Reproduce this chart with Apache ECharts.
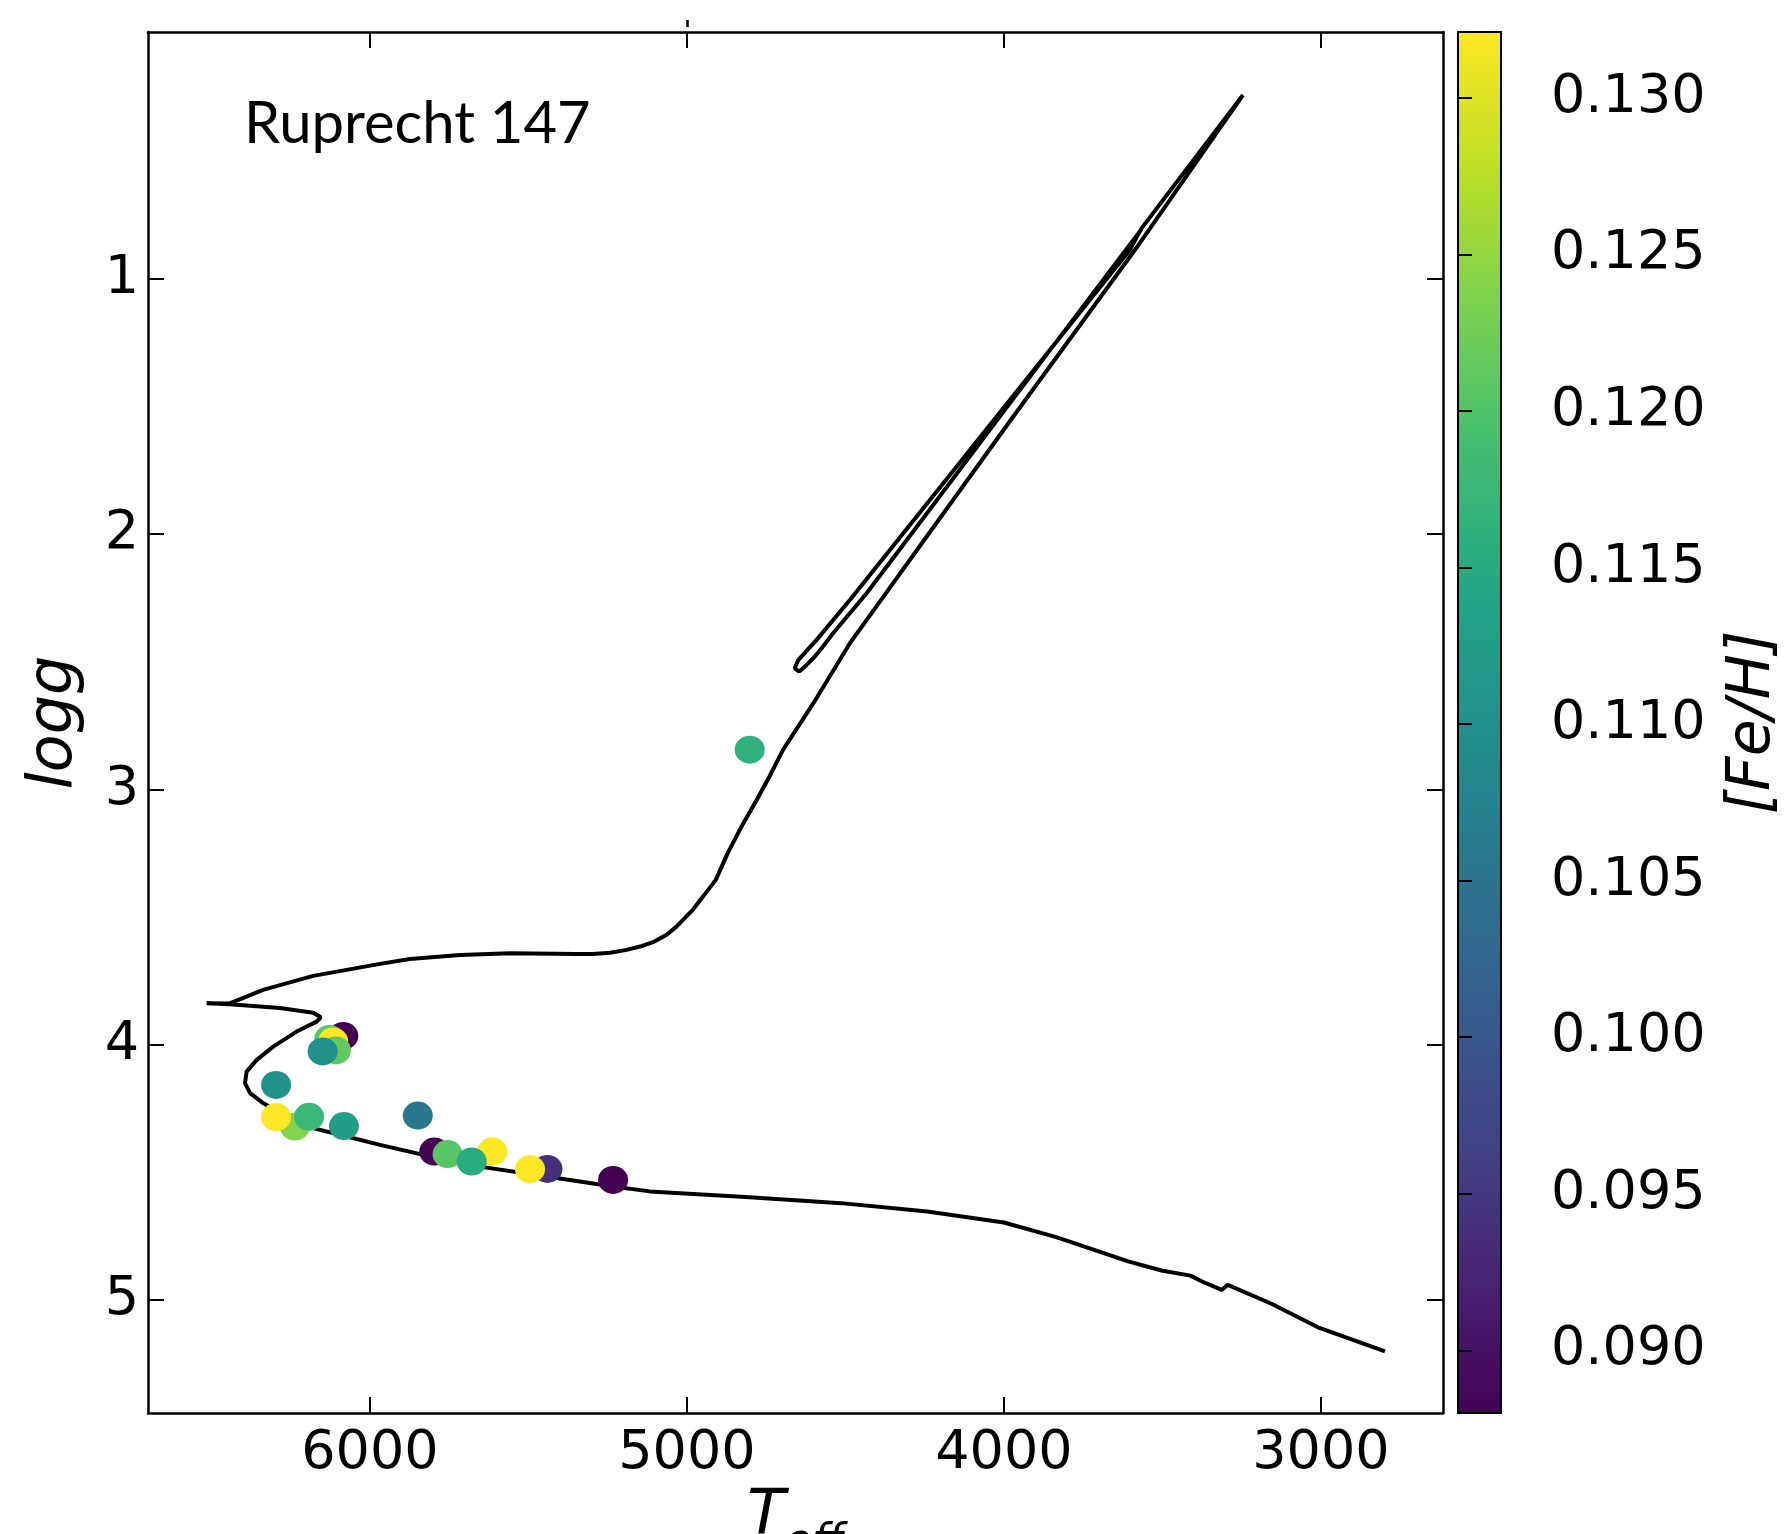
<!DOCTYPE html>
<html>
<head>
<meta charset="utf-8">
<script src="https://cdn.jsdelivr.net/npm/echarts@6/dist/echarts.min.js"></script>
<style>
  html, body { margin: 0; padding: 0; background: #fff; }
  #chart { width: 1784px; height: 1534px; }
</style>
</head>
<body>
<div id="chart"></div>
<script>
// observed stars (Teff, logg, [Fe/H]) - later ones drawn on top
const starTeff = [6084, 6128, 6116, 6107, 6149, 6296, 6237, 6296, 6192, 6082,
                  5849, 5797, 5755, 5614, 5679, 5440, 5495, 5233, 4802];
const starLogg = [3.965, 3.977, 3.987, 4.022, 4.026, 4.157, 4.320, 4.283, 4.282, 4.318,
                  4.277, 4.418, 4.428, 4.418, 4.457, 4.486, 4.487, 4.529, 2.844];
const starFeh = [0.0880, 0.1202, 0.1321, 0.1213, 0.1100, 0.1100, 0.1239, 0.1321, 0.1175, 0.1125,
                 0.1056, 0.0880, 0.1206, 0.1321, 0.1153, 0.0940, 0.1321, 0.0880, 0.1162];

// isochrone, from the low mass end of the main sequence to the AGB
const isoTeff = [2798, 3005, 3156, 3294, 3313, 3375, 3412, 3503, 3608, 3835,
                 4000, 4242, 4514, 4815, 5117, 5233, 5443, 5653, 5811, 5968,
                 6095, 6179, 6263, 6337, 6378, 6394, 6389, 6357, 6305, 6231,
                 6168, 6155, 6179, 6284, 6442, 6515, 6442, 6337, 6179, 5968,
                 5874, 5716, 5558, 5348, 5296, 5243, 5190, 5148, 5107, 5064,
                 5033, 5007, 4980, 4959, 4933, 4909, 4871, 4830, 4780, 4740,
                 4697, 4600, 4486, 4388, 4297, 3971, 3587, 3246,
                 3566, 3603, 4019, 4486, 4591, 4649, 4660, 4646, 4628, 4597,
                 4575, 4539, 4433, 4000, 3566];
const isoLogg = [5.201, 5.109, 5.014, 4.940, 4.960, 4.927, 4.904, 4.884, 4.848, 4.753,
                 4.696, 4.653, 4.620, 4.596, 4.574, 4.555, 4.516, 4.477, 4.437, 4.392,
                 4.352, 4.326, 4.281, 4.228, 4.189, 4.150, 4.105, 4.059, 4.007, 3.948,
                 3.909, 3.892, 3.874, 3.856, 3.841, 3.837, 3.838, 3.785, 3.730, 3.683,
                 3.664, 3.648, 3.641, 3.644, 3.644, 3.639, 3.628, 3.615, 3.598, 3.569,
                 3.537, 3.504, 3.469, 3.435, 3.393, 3.354, 3.248, 3.150, 3.041, 2.950,
                 2.845, 2.660, 2.427, 2.258, 2.101, 1.540, 0.887, 0.280,
                 0.802, 0.887, 1.533, 2.258, 2.414, 2.493, 2.525, 2.538, 2.519, 2.480,
                 2.447, 2.388, 2.231, 1.518, 0.805];

const tempTicks = [6000, 5000, 4000, 3000];
const loggTicks = [1, 2, 3, 4, 5];
const fehTicks = [0.090, 0.095, 0.100, 0.105, 0.110, 0.115, 0.120, 0.125, 0.130];
// lone tick mark sitting above the frame
const strayTicks = [5000];

const viridis = ['#440154', '#482475', '#414487', '#355f8d', '#2a788e', '#21918c',
                 '#22a884', '#42be71', '#7ad151', '#bddf26', '#fde725'];
const fehMin = 0.0880;
const fehMax = 0.1321;

let stars = [];
for (let i = 0; i < starTeff.length; i++) {
    stars.push([starTeff[i], starLogg[i], starFeh[i]]);
}
let iso = [];
for (let i = 0; i < isoTeff.length; i++) {
    iso.push([isoTeff[i], isoLogg[i]]);
}

// colorbar gradient, yellow at top
let barStops = viridis.map((c, i) => ({ offset: 1 - i / (viridis.length - 1), color: c }));

const font = 'DejaVu Sans';
const frame = { show: true, lineStyle: { color: '#000', width: 2.5 } };

let myChart = echarts.init(document.getElementById('chart'), null, { renderer: 'canvas' });

option = {
    backgroundColor: '#fff',
    animation: false,
    title: {
        text: 'Ruprecht 147',
        left: 244,
        top: 95,
        padding: 0,
        textStyle: { fontFamily: 'Lato', fontSize: 58, fontWeight: 'normal', color: '#000' }
    },
    grid: [
        { left: 148, top: 32, width: 1295, height: 1381, outerBoundsMode: 'none' },
        {
            left: 1458, top: 32, width: 43, height: 1381,
            outerBoundsMode: 'none',
            show: true,
            borderColor: '#000',
            borderWidth: 2,
            backgroundColor: { type: 'linear', x: 0, y: 0, x2: 0, y2: 1, colorStops: barStops }
        }
    ],
    visualMap: {
        type: 'continuous',
        show: false,
        seriesIndex: 1,
        dimension: 2,
        min: fehMin,
        max: fehMax,
        inRange: { color: viridis }
    },
    xAxis: [
        {
            gridIndex: 0, type: 'value', position: 'bottom', inverse: true,
            min: 2615, max: 6700,
            axisLine: frame,
            splitLine: { show: false },
            axisTick: { show: true, inside: true, length: 16, customValues: tempTicks,
                        lineStyle: { color: '#000', width: 2 } },
            axisLabel: { customValues: tempTicks, fontFamily: font, fontSize: 54, color: '#000', margin: 14,
                         formatter: (v) => String(v) },
            name: '{t|T}{s|eff}',
            nameLocation: 'middle',
            nameGap: 64,
            nameTextStyle: {
                rich: {
                    t: { fontFamily: font, fontStyle: 'italic', fontSize: 62, color: '#000',
                         lineHeight: 80, verticalAlign: 'top' },
                    s: { fontFamily: font, fontStyle: 'italic', fontSize: 44, color: '#000',
                         lineHeight: 80, verticalAlign: 'bottom' }
                }
            }
        },
        {
            gridIndex: 0, type: 'value', position: 'top', inverse: true,
            min: 2615, max: 6700,
            axisLine: frame,
            splitLine: { show: false },
            axisTick: { show: true, inside: true, length: 16, customValues: tempTicks,
                        lineStyle: { color: '#000', width: 2 } },
            axisLabel: { show: false }
        },
        {
            gridIndex: 1, type: 'value', min: 0, max: 1, show: false
        },
        {
            gridIndex: 0, type: 'value', position: 'top', offset: 5, inverse: true,
            min: 2615, max: 6700,
            axisLine: { show: false },
            splitLine: { show: false },
            axisTick: { show: true, inside: false, length: 7, customValues: strayTicks,
                        lineStyle: { color: '#000', width: 2.5 } },
            axisLabel: { show: false }
        }
    ],
    yAxis: [
        {
            gridIndex: 0, type: 'value', position: 'left', inverse: true,
            min: 0.033, max: 5.442,
            axisLine: frame,
            splitLine: { show: false },
            axisTick: { show: true, inside: true, length: 16, customValues: loggTicks,
                        lineStyle: { color: '#000', width: 2 } },
            axisLabel: { customValues: loggTicks, fontFamily: font, fontSize: 54, color: '#000', margin: 9 },
            name: 'logg',
            nameLocation: 'middle',
            nameRotate: 90,
            nameGap: 62,
            nameTextStyle: { fontFamily: font, fontStyle: 'italic', fontSize: 62, color: '#000' }
        },
        {
            gridIndex: 0, type: 'value', position: 'right', inverse: true,
            min: 0.033, max: 5.442,
            axisLine: frame,
            splitLine: { show: false },
            axisTick: { show: true, inside: true, length: 16, customValues: loggTicks,
                        lineStyle: { color: '#000', width: 2 } },
            axisLabel: { show: false }
        },
        {
            gridIndex: 1, type: 'value', position: 'right',
            min: fehMin, max: fehMax,
            axisLine: { show: true, lineStyle: { color: '#000', width: 2 } },
            splitLine: { show: false },
            axisTick: { show: true, inside: false, length: 14, customValues: fehTicks,
                        lineStyle: { color: '#000', width: 2 } },
            axisLabel: {
                customValues: fehTicks, fontFamily: font, fontSize: 54, color: '#000', margin: 50,
                formatter: (v) => v.toFixed(3)
            },
            name: '[Fe/H]',
            nameLocation: 'middle',
            nameRotate: 90,
            nameGap: 222,
            nameTextStyle: { fontFamily: font, fontStyle: 'italic', fontSize: 60, color: '#000' }
        }
    ],
    series: [
        {
            name: 'isochrone',
            type: 'line',
            xAxisIndex: 0,
            yAxisIndex: 0,
            data: iso,
            showSymbol: false,
            smooth: false,
            lineStyle: { color: '#000', width: 4 },
            z: 2
        },
        {
            name: 'stars',
            type: 'scatter',
            xAxisIndex: 0,
            yAxisIndex: 0,
            data: stars,
            symbol: 'circle',
            symbolSize: [30, 28],
            itemStyle: { opacity: 1 },
            z: 3
        }
    ]
};

if (option && typeof option === 'object') {
    myChart.setOption(option);
}
</script>
</body>
</html>
